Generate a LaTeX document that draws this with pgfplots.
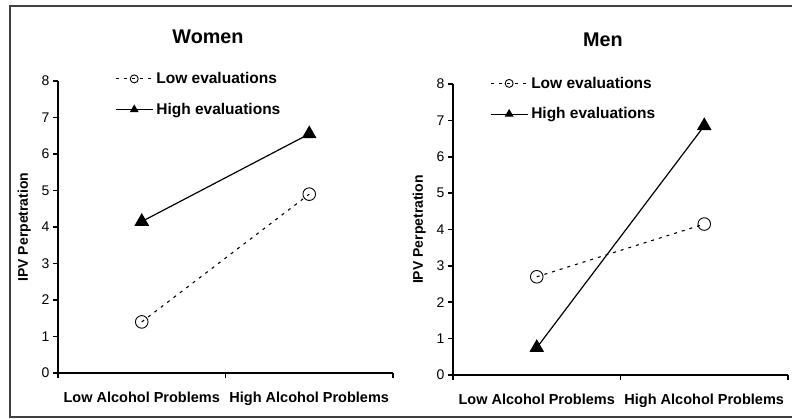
\documentclass[border=0pt]{standalone}
\usepackage{pgfplots}
\pgfplotsset{compat=1.18}
\usepackage{fontspec}
\setmainfont{Liberation Sans}
\pgfplotsset{
  panel/.style={
    scale only axis, width=335pt,
    xmin=0, xmax=2, ymin=0, ymax=8,
    clip=false,
    axis x line*=bottom, axis y line*=left,
    axis line style={line width=2.2pt, -},
    ytick={0,1,...,8},
    xtick={0,1,2}, xticklabels={,,},
    tick align=outside, major tick length=5pt,
    every tick/.style={black, line width=1.6pt},
    extra x ticks={0.5,1.5},
    extra x tick labels={Low Alcohol Problems, High Alcohol Problems},
    extra x tick style={grid=none, major tick length=0pt,
      xticklabel style={font=\fontsize{14.5}{16}\selectfont\bfseries, yshift=-15pt}},
    /pgf/number format/assume math mode=true,
    yticklabel style={font=\fontsize{14}{16}\selectfont},
    ylabel={IPV Perpetration},
    ylabel style={font=\fontsize{14}{16}\selectfont\bfseries, yshift=4pt},
    legend cell align=left,
    legend style={draw=none, fill=none, anchor=north west,
      font=\fontsize{15.5}{17}\selectfont\bfseries, row sep=12pt,
      inner sep=0pt, nodes={inner sep=3pt}},
    legend image code/.code={
      \draw[mark repeat=2, mark phase=2, #1, mark size=4pt]
        plot coordinates {(0pt,0pt) (18.5pt,0pt) (37pt,0pt)};},
  },
  lowev/.style={black, line width=1.1pt, dash pattern=on 3pt off 5pt,
    mark=o, mark size=6.3pt, mark options={solid, fill=white, line width=0.9pt}},
  highev/.style={black, line width=1.2pt, mark=triangle*, mark size=7.3pt,
    mark options={solid}},
}
\begin{document}
\begin{tikzpicture}
\useasboundingbox (0pt,0pt) rectangle (792pt,418pt);
\draw[line width=1.4pt, black!75] (10pt,1pt) rectangle (830pt,412pt);
\begin{axis}[panel, at={(58pt,45pt)}, anchor=south west, height=292pt,
  legend style={at={(0.17,1.04)}}]
\addplot[lowev] coordinates {(0.5,1.4) (1.5,4.9)};
\addplot[highev] coordinates {(0.5,4.15) (1.5,6.55)};
\legend{Low evaluations, High evaluations}
\end{axis}
\begin{axis}[panel, at={(453pt,43pt)}, anchor=south west, height=291pt,
  legend style={at={(0.11,1.035)}}]
\addplot[lowev] coordinates {(0.5,2.7) (1.5,4.15)};
\addplot[highev] coordinates {(0.5,0.75) (1.5,6.85)};
\legend{Low evaluations, High evaluations}
\end{axis}
\node[font=\fontsize{19.8}{22}\selectfont\bfseries] at (208pt,381pt) {Women};
\node[font=\fontsize{19.8}{22}\selectfont\bfseries] at (603pt,378pt) {Men};
\end{tikzpicture}
\end{document}
